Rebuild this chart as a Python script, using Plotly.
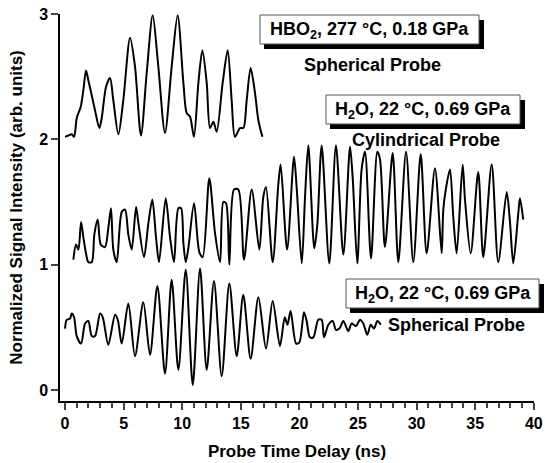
"""Impulsive stimulated scattering traces: HBO2 and H2O, spherical vs cylindrical probe."""

import plotly.graph_objects as go

# %%
# HBO2, 277 C, 0.18 GPa, spherical probe (offset +2)
t_hbo2 = [0.0, 0.28, 0.57, 0.77, 1.0, 1.34, 1.56, 1.79, 1.99, 2.28,
          2.56, 2.93, 3.13, 3.5, 3.84, 4.12, 4.55, 4.97, 5.55, 5.97,
          6.48, 6.97, 7.48, 7.96, 8.53, 9.1, 9.61, 10.1, 10.38, 10.67,
          11.0, 11.38, 11.72, 12.09, 12.37, 12.66, 12.94, 13.45, 13.88, 14.22,
          14.5, 14.93, 15.22, 15.5, 15.84, 16.21, 16.5, 16.84]
sig_hbo2 = [2.02, 2.03, 2.04, 2.02, 2.17, 2.26, 2.39, 2.55, 2.47, 2.35,
            2.23, 2.09, 2.17, 2.42, 2.49, 2.31, 2.04, 2.31, 2.81, 2.58,
            2.03, 2.53, 2.99, 2.58, 2.05, 2.58, 2.99, 2.45, 2.21, 2.18,
            2.02, 2.45, 2.71, 2.45, 2.09, 2.14, 2.06, 2.45, 2.71, 2.31,
            2.02, 2.09, 2.09, 2.31, 2.57, 2.37, 2.15, 2.02]

# H2O, 22 C, 0.69 GPa, cylindrical probe (offset +1)
t_h2o_cyl = [0.71, 0.94, 1.14, 1.37, 1.56, 1.79, 1.99, 2.28, 2.5, 2.79,
             3.05, 3.41, 3.69, 3.92, 4.12, 4.41, 4.84, 5.12, 5.4, 5.69,
             6.06, 6.25, 6.74, 7.11, 7.45, 7.76, 8.02, 8.59, 8.96, 9.3,
             9.67, 9.9, 10.1, 10.3, 10.52, 11.01, 11.46, 11.75, 12.31, 12.8,
             13.23, 13.51, 13.74, 14.02, 14.42, 14.79, 15.27, 15.93, 16.58, 16.92,
             17.15, 17.72, 18.2, 18.4, 18.95, 19.54, 19.77, 20.2, 20.48, 20.76,
             21.27, 21.53, 21.9, 22.55, 23.12, 23.75, 24.32, 24.55, 24.94, 25.31,
             25.6, 26.11, 26.65, 26.88, 27.3, 27.96, 28.44, 29.1, 29.72, 30.35,
             30.86, 31.57, 32.14, 32.28, 32.51, 32.85, 33.13, 33.42, 33.93, 34.13,
             34.62, 35.26, 35.69, 36.41, 36.97, 37.69, 37.97, 38.25, 38.68, 38.82,
             39.1]
sig_h2o_cyl = [1.04, 1.16, 1.12, 1.34, 1.22, 1.09, 1.02, 1.02, 1.24, 1.36,
               1.16, 1.14, 1.29, 1.45, 1.12, 1.02, 1.42, 1.44, 1.24, 1.12,
               1.46, 1.34, 1.06, 1.33, 1.52, 1.22, 1.02, 1.53, 1.22, 1.02,
               1.45, 1.45, 1.17, 1.02, 1.13, 1.49, 1.1, 1.06, 1.69, 1.25,
               1.02, 1.5, 1.49, 1.0, 1.6, 1.6, 1.04, 1.6, 1.12, 1.54,
               1.62, 1.02, 1.64, 1.8, 1.12, 1.86, 1.61, 1.01, 1.54, 1.95,
               1.13, 1.32, 1.95, 1.01, 1.95, 1.08, 1.94, 1.69, 1.01, 1.76,
               1.9, 1.05, 1.9, 1.84, 1.14, 1.89, 1.02, 1.9, 1.02, 1.88,
               1.09, 1.77, 1.09, 1.44, 1.61, 1.76, 1.38, 1.09, 1.8, 1.52,
               1.09, 1.74, 1.06, 1.8, 1.02, 1.58, 1.34, 1.01, 1.41, 1.53,
               1.36]

# H2O, 22 C, 0.69 GPa, spherical probe (no offset)
t_h2o_sph = [0.0, 0.14, 0.43, 0.57, 0.77, 1.0, 1.37, 1.71, 1.99, 2.28,
             2.56, 2.99, 3.22, 3.69, 4.27, 4.5, 4.84, 5.4, 5.97, 6.68,
             7.25, 7.88, 8.53, 9.1, 9.67, 10.3, 10.9, 11.52, 12.09, 12.71,
             13.37, 14.02, 14.65, 15.21, 15.84, 16.5, 17.15, 17.72, 18.34, 18.75,
             18.98, 19.25, 19.72, 20.0, 20.39, 20.62, 20.9, 21.19, 21.61, 21.9,
             22.1, 22.47, 22.84, 23.12, 23.41, 23.75, 24.17, 24.46, 24.83, 25.17,
             25.45, 25.8, 26.08, 26.37, 26.65, 26.94]
sig_h2o_sph = [0.49, 0.56, 0.57, 0.61, 0.58, 0.43, 0.37, 0.53, 0.55, 0.43,
               0.43, 0.61, 0.58, 0.36, 0.6, 0.56, 0.37, 0.69, 0.27, 0.7,
               0.28, 0.83, 0.13, 0.88, 0.16, 0.96, 0.04, 0.97, 0.16, 0.87,
               0.11, 0.85, 0.27, 0.76, 0.25, 0.74, 0.33, 0.71, 0.35, 0.58,
               0.52, 0.63, 0.37, 0.38, 0.62, 0.55, 0.42, 0.42, 0.56, 0.56,
               0.42, 0.52, 0.55, 0.48, 0.49, 0.55, 0.47, 0.53, 0.51, 0.56,
               0.53, 0.44, 0.52, 0.49, 0.55, 0.52]

x_ticks = [0, 5, 10, 15, 20, 25, 30, 35, 40]
y_ticks = [0, 1, 2, 3]

# %%
W, H = 545, 463
ML, MR, MT, MB = 60, 11, 14, 62
FONT = "Liberation Sans, Arial, sans-serif"


def px(x, y):
    """pixel position -> paper coords"""
    return (x - ML) / (W - ML - MR), (H - MB - y) / (H - MT - MB)


fig = go.Figure()
for tt, ss in [(t_hbo2, sig_hbo2), (t_h2o_cyl, sig_h2o_cyl), (t_h2o_sph, sig_h2o_sph)]:
    fig.add_trace(
        go.Scatter(
            x=tt, y=ss, mode="lines",
            line={"color": "black", "width": 2, "shape": "spline", "smoothing": 0.8},
            showlegend=False,
        )
    )

# boxed labels with drop shadow: (left, top, right, bottom) in pixels
boxes = [
    ((260, 15, 479, 44), "HBO<sub>2</sub>, 277 °C, 0.18 GPa", "Spherical Probe", (372, 65)),
    ((326, 95, 520, 124), "H<sub>2</sub>O, 22 °C, 0.69 GPa", "Cylindrical Probe", (426, 140)),
    ((346, 279, 539, 308), "H<sub>2</sub>O, 22 °C, 0.69 GPa", "Spherical Probe", (456, 325)),
]
text_font = {"size": 18, "color": "black", "family": FONT, "weight": "bold"}
for (x0, y0, x1, y1), label, probe, (px_, py_) in boxes:
    a0, b0 = px(x0 + 4, y1 + 5)
    a1, b1 = px(x1 + 5, y0 + 5)
    fig.add_shape(type="rect", xref="paper", yref="paper", x0=a0, y0=b0, x1=a1, y1=b1,
                  fillcolor="black", line={"width": 0}, layer="above")
    a0, b0 = px(x0, y1)
    a1, b1 = px(x1, y0)
    fig.add_shape(type="rect", xref="paper", yref="paper", x0=a0, y0=b0, x1=a1, y1=b1,
                  fillcolor="white", line={"color": "#555", "width": 1}, layer="above")
    cx, cy = px((x0 + x1) / 2, (y0 + y1) / 2 + 1)
    fig.add_annotation(x=cx, y=cy, xref="paper", yref="paper", text=label, showarrow=False,
                       xanchor="center", yanchor="middle", font=text_font)
    cx, cy = px(px_, py_)
    fig.add_annotation(x=cx, y=cy, xref="paper", yref="paper", text=probe, showarrow=False,
                       xanchor="center", yanchor="middle", font=text_font)

axis_font = {"size": 17, "family": FONT, "weight": "bold", "color": "black"}
tick_font = {"size": 16, "family": FONT, "weight": "bold", "color": "black"}

fig.update_xaxes(
    range=[-0.43, 40.02], tickvals=x_ticks, ticks="outside", ticklen=7, tickwidth=1.5,
    showline=True, linecolor="black", linewidth=1.5, showgrid=False, zeroline=False,
    automargin=False,
    minor={"dtick": 1, "ticks": "outside", "ticklen": 5, "tickwidth": 1.5, "showgrid": False},
    tickfont=tick_font,
    title={"text": "Probe Time Delay (ns)", "standoff": 14, "font": axis_font},
)
fig.update_yaxes(
    range=[-0.088, 3.0], tickvals=y_ticks, ticks="outside", ticklen=7, tickwidth=1.5,
    showline=True, linecolor="black", linewidth=1.5, showgrid=False, zeroline=False,
    automargin=False,
    tickfont=tick_font,
    title={"text": "Normalized Signal Intensity (arb. units)", "standoff": 12, "font": axis_font},
)
fig.update_layout(
    width=W, height=H,
    margin={"l": ML, "r": MR, "t": MT, "b": MB, "autoexpand": False},
    plot_bgcolor="white", paper_bgcolor="white",
    showlegend=False,
)

# page body has a default 8px margin, drop it so the figure sits at the window corner
fig.write_html(
    "out.html",
    config={"displayModeBar": False},
    post_script="document.body.style.margin='0';document.body.style.padding='0';",
)
